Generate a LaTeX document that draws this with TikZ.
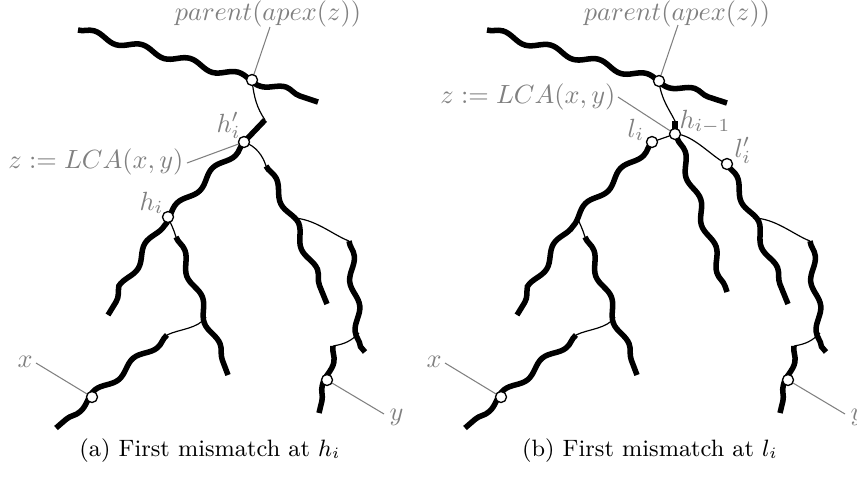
\documentclass[tikz,border=0pt]{standalone}
\usetikzlibrary{decorations.pathmorphing}
\tikzset{
  heavy/.style={line width=2.1pt, decorate, decoration={snake, segment length=19pt, amplitude=1.4pt}},
  heavyline/.style={line width=2.1pt},
  light/.style={line width=0.45pt},
  lab/.style={text=black!50, inner sep=0pt},
  labline/.style={draw=black!50, line width=0.4pt},
  vtx/.style={circle, draw, fill=white, line width=0.5pt, minimum size=4.2pt, inner sep=0pt},
  capt/.style={font=\small, inner sep=0pt}
}
\begin{document}
\begin{tikzpicture}[x=0.38pt,y=-0.38pt]
\useasboundingbox (0,0) rectangle (857,482);
% ---------- panel (a) ----------
\coordinate (aT1) at (78,30);
\coordinate (aP) at (252,80);
\coordinate (aT2) at (318,102);
\coordinate (aS1) at (265,120);
\coordinate (aH1) at (244,142);
\coordinate (aH) at (168,217);
\coordinate (aL1) at (108,315);
\coordinate (aR0) at (266,166);
\coordinate (aRb) at (292,218);
\coordinate (aR1) at (327,304);
\coordinate (aQ0) at (349,241);
\coordinate (aQb) at (359,333);
\coordinate (aQ1) at (365,352);
\coordinate (aY0) at (333,346);
\coordinate (aY) at (327,380);
\coordinate (aY1) at (319,413);
\coordinate (aM0) at (176,237);
\coordinate (aMb) at (206,317);
\coordinate (aM1) at (228,375);
\coordinate (aX0) at (167,335);
\coordinate (aX) at (92,397);
\coordinate (aX1) at (56,428);

\draw[heavy] (aT1) -- (aP) -- (aT2);
\draw[heavyline] (aS1) -- (aH1);
\draw[heavy] (aH1) -- (aH) -- (aL1);
\draw[heavy] (aR0) -- (aRb) -- (aR1);
\draw[heavy] (aQ0) -- (aQb) -- (aQ1);
\draw[heavy] (aY0) -- (aY) -- (aY1);
\draw[heavy] (aM0) -- (aMb) -- (aM1);
\draw[heavy] (aX0) -- (aX) -- (aX1);

\draw[light] (aP) .. controls +(2,18) and +(-8,-12) .. (aS1);
\draw[light] (aH1) .. controls +(12,4) and +(-3,-10) .. (aR0);
\draw[light] (aRb) .. controls +(22,0) and +(-16,-6) .. (aQ0);
\draw[light] (aQb) .. controls +(-8,8) and +(12,-2) .. (aY0);
\draw[light] (aH) .. controls +(3,7) and +(-2,-7) .. (aM0);
\draw[light] (aMb) .. controls +(-8,12) and +(12,-6) .. (aX0);

\node[lab, anchor=base] (aPlab) at (268,20) {$parent(apex(z))$};
\coordinate (aPend) at (270,27);
\draw[labline] (aP) -- (aPend);
\node[lab, anchor=base west] (aH1lab) at (216,132) {$h'_i$};
\node[lab, anchor=base east] (aZlab) at (184,168) {$z := LCA(x,y)$};
\coordinate (aZend) at (187,163);
\draw[labline] (aZend) -- (aH1);
\node[lab, anchor=base west] (aHlab) at (139,210) {$h_i$};
\node[lab, anchor=base west] (aXlab) at (17,367) {$x$};
\coordinate (aXend) at (36,363);
\draw[labline] (aXend) -- (aX);
\node[lab, anchor=base west] (aYlab) at (389,420) {$y$};
\coordinate (aYend) at (384,414);
\draw[labline] (aY) -- (aYend);

\foreach \c in {aP,aH1,aH,aX,aY} \node[vtx] (\c v) at (\c) {};

\node[capt, anchor=base] (acap) at (210,456) {(a) First mismatch at $h_i$};

% ---------- panel (b) ----------
\coordinate (bT1) at (487,30);
\coordinate (bP) at (659,81);
\coordinate (bT2) at (727,103);
\coordinate (bS1) at (675,121);
\coordinate (bS2) at (675,130);
\coordinate (bZ) at (675,134);
\coordinate (bLi) at (652,142);
\coordinate (bH) at (577,217);
\coordinate (bL1) at (517,315);
\coordinate (bM0) at (585,237);
\coordinate (bMb) at (615,317);
\coordinate (bM1) at (637,375);
\coordinate (bX0) at (576,335);
\coordinate (bX) at (501,397);
\coordinate (bX1) at (465,428);
\coordinate (bD0) at (677,138);
\coordinate (bD1) at (727,292);
\coordinate (bLp) at (727,164);
\coordinate (bRb) at (753,218);
\coordinate (bR1) at (788,304);
\coordinate (bQ0) at (810,241);
\coordinate (bQb) at (820,333);
\coordinate (bQ1) at (826,352);
\coordinate (bY0) at (794,346);
\coordinate (bY) at (788,380);
\coordinate (bY1) at (780,413);

\draw[heavy] (bT1) -- (bP) -- (bT2);
\draw[heavyline] (bS1) -- (bS2);
\draw[heavy] (bLi) -- (bH) -- (bL1);
\draw[heavy] (bM0) -- (bMb) -- (bM1);
\draw[heavy] (bX0) -- (bX) -- (bX1);
\draw[heavy] (bD0) -- (bD1);
\draw[heavy] (bLp) -- (bRb) -- (bR1);
\draw[heavy] (bQ0) -- (bQb) -- (bQ1);
\draw[heavy] (bY0) -- (bY) -- (bY1);

\draw[light] (bP) .. controls +(2,18) and +(-6,-12) .. (bS1);
\draw[light] (bZ) -- (bLi);
\draw[light] (bZ) .. controls +(18,0) and +(-14,-6) .. (bLp);
\draw[light] (bRb) .. controls +(22,0) and +(-16,-6) .. (bQ0);
\draw[light] (bQb) .. controls +(-8,8) and +(12,-2) .. (bY0);
\draw[light] (bH) .. controls +(3,7) and +(-2,-7) .. (bM0);
\draw[light] (bMb) .. controls +(-8,12) and +(12,-6) .. (bX0);

\node[lab, anchor=base] (bPlab) at (677,20) {$parent(apex(z))$};
\coordinate (bPend) at (678,25);
\draw[labline] (bP) -- (bPend);
\node[lab, anchor=base east] (bZlab) at (616,103) {$z := LCA(x,y)$};
\coordinate (bZend) at (618,97);
\draw[labline] (bZend) -- (bZ);
\node[lab, anchor=base west] (bHlab) at (679,128) {$h_{i-1}$};
\node[lab, anchor=base west] (bLilab) at (627,137) {$l_i$};
\node[lab, anchor=base west] (bLplab) at (734,157) {$l'_i$};
\node[lab, anchor=base west] (bXlab) at (426,367) {$x$};
\coordinate (bXend) at (445,363);
\draw[labline] (bXend) -- (bX);
\node[lab, anchor=base west] (bYlab) at (850,420) {$y$};
\coordinate (bYend) at (845,414);
\draw[labline] (bY) -- (bYend);

\foreach \c in {bP,bZ,bLi,bLp,bX,bY} \node[vtx] (\c v) at (\c) {};

\node[capt, anchor=base] (bcap) at (650,456) {(b) First mismatch at $l_i$};
\end{tikzpicture}
\end{document}
